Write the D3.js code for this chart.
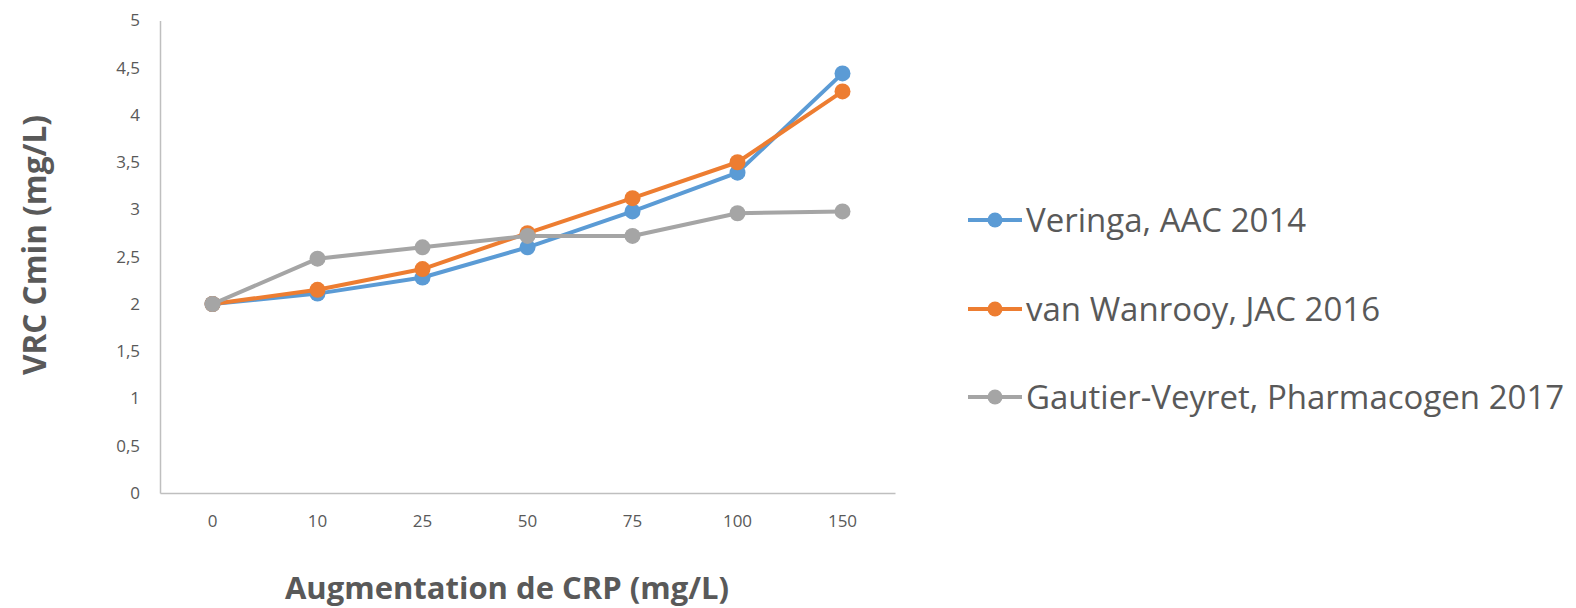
<!DOCTYPE html>
<html lang="en">
<head>
<meta charset="utf-8">
<style>
  body { margin: 0; background: #fff; }
  svg { display: block; }
  .ttl { fill: #595959; font-family: "Open Sans", sans-serif; font-weight: bold; }
  .leg { fill: #595959; font-family: "Open Sans", sans-serif; }
</style>
<script src="https://d3js.org/d3.v7.min.js"></script>
</head>
<body>
<script>
var categories = ["0", "10", "25", "50", "75", "100", "150"];
var seriesNames = ["Veringa, AAC 2014", "van Wanrooy, JAC 2016", "Gautier-Veyret, Pharmacogen 2017"];
var veringa = [2.0, 2.11, 2.28, 2.60, 2.98, 3.39, 4.44];
var vanWanrooy = [2.0, 2.15, 2.37, 2.75, 3.12, 3.50, 4.25];
var gautier = [2.0, 2.48, 2.60, 2.72, 2.72, 2.96, 2.98];
var yTicks = [0, 0.5, 1, 1.5, 2, 2.5, 3, 3.5, 4, 4.5, 5];
var colors = ["#5B9BD5", "#ED7D31", "#A5A5A5"];

var width = 1576, height = 608;
var plotL = 160, plotR = 895, plotT = 20.5, plotB = 493;

var svg = d3.select("body").append("svg")
  .attr("width", width)
  .attr("height", height);

var x = d3.scaleBand().domain(categories).range([plotL, plotR]);
var y = d3.scaleLinear().domain([0, 5]).range([plotB, plotT]);

// axes
var fmt = function(d) { return String(d).replace(".", ","); };
var gy = svg.append("g").attr("transform", "translate(" + plotL + ",0)")
  .call(d3.axisLeft(y).tickValues(yTicks).tickFormat(fmt).tickSize(0).tickPadding(20));
gy.select(".domain").attr("stroke", "#BFBFBF").attr("stroke-width", 1.5);

var gx = svg.append("g").attr("transform", "translate(0," + plotB + ")")
  .call(d3.axisBottom(x).tickSize(0).tickPadding(22));
gx.select(".domain").attr("stroke", "#BFBFBF").attr("stroke-width", 1.5);

svg.selectAll(".tick text")
  .style("font-family", "'Open Sans', sans-serif")
  .style("font-size", "17px")
  .style("fill", "#595959");

// series
var all = [veringa, vanWanrooy, gautier];
var line = d3.line()
  .x(function(d, i) { return x(categories[i]) + x.bandwidth() / 2; })
  .y(function(d) { return y(d); });

all.forEach(function(s, k) {
  var g = svg.append("g");
  g.append("path").datum(s)
    .attr("d", line)
    .attr("fill", "none")
    .attr("stroke", colors[k])
    .attr("stroke-width", 4)
    .attr("stroke-linejoin", "round");
  g.selectAll("circle").data(s).enter().append("circle")
    .attr("cx", function(d, i) { return x(categories[i]) + x.bandwidth() / 2; })
    .attr("cy", function(d) { return y(d); })
    .attr("r", 8)
    .attr("fill", colors[k]);
});

// legend
var legY = [220, 309, 397];
seriesNames.forEach(function(name, k) {
  var g = svg.append("g").attr("transform", "translate(0," + legY[k] + ")");
  g.append("line").attr("x1", 968).attr("x2", 1022).attr("y1", 0).attr("y2", 0)
    .attr("stroke", colors[k]).attr("stroke-width", 4);
  g.append("circle").attr("cx", 995).attr("cy", 0).attr("r", 7.5).attr("fill", colors[k]);
  g.append("text").attr("class", "leg")
    .attr("x", 1026).attr("y", 12)
    .style("font-size", "33px")
    .text(name);
});

// axis titles
svg.append("text").attr("class", "ttl")
  .attr("x", 507).attr("y", 599)
  .attr("text-anchor", "middle")
  .style("font-size", "31px")
  .text("Augmentation de CRP (mg/L)");

svg.append("text").attr("class", "ttl")
  .attr("transform", "translate(46,245) rotate(-90)")
  .attr("text-anchor", "middle")
  .style("font-size", "31.5px")
  .text("VRC Cmin (mg/L)");
</script>
</body>
</html>
